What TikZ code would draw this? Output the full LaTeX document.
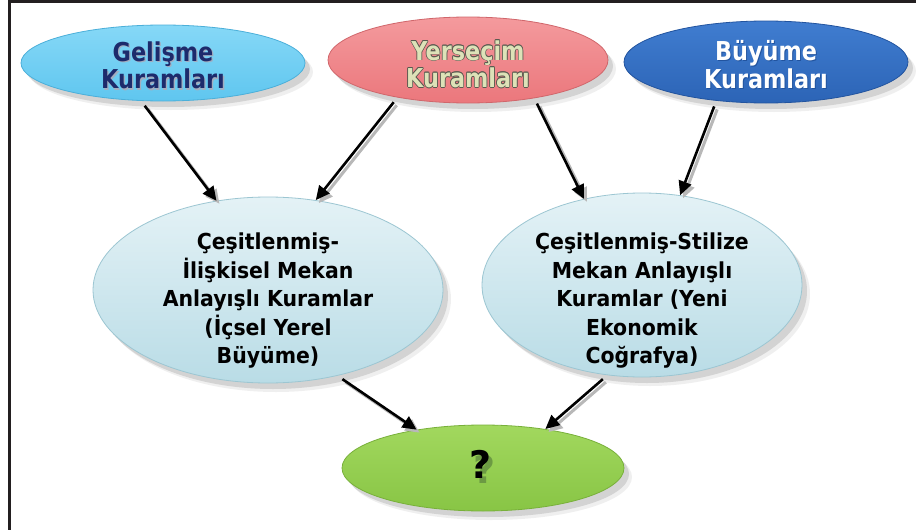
\documentclass[tikz,border=0pt]{standalone}
\usepackage{fontspec}
\setmainfont{DejaVu Sans}
\newfontfamily\headfont{DejaVu Sans}[FakeStretch=0.86]
\newfontfamily\bodyfont{DejaVu Sans}[FakeStretch=0.93]
\usetikzlibrary{shapes.geometric,shadows,arrows.meta}

\definecolor{framegray}{HTML}{231F20}
\definecolor{skytop}{HTML}{86D8F7}
\definecolor{skybot}{HTML}{5FC6EF}
\definecolor{skyedge}{HTML}{4BAFD9}
\definecolor{rosetop}{HTML}{F49A9D}
\definecolor{rosebot}{HTML}{EB777C}
\definecolor{roseedge}{HTML}{D0666B}
\definecolor{bluetop}{HTML}{407DD0}
\definecolor{bluebot}{HTML}{2C64B6}
\definecolor{blueedge}{HTML}{22549F}
\definecolor{icetop}{HTML}{E4F2F6}
\definecolor{icebot}{HTML}{B9DCE6}
\definecolor{iceedge}{HTML}{9CC6D2}
\definecolor{limetop}{HTML}{A2D85E}
\definecolor{limebot}{HTML}{88C545}
\definecolor{limeedge}{HTML}{78B03A}
\definecolor{navytext}{HTML}{1D2B6C}
\definecolor{navyglow}{HTML}{A3ADBF}
\definecolor{paletext}{HTML}{DDE2B8}
\definecolor{ringgray}{HTML}{5A5A50}
\definecolor{qshade}{HTML}{6C9A43}

% text with a thin dark ring round it
\newcommand\ringtext[3]{%
  \leavevmode
  \rlap{\kern-.7pt\textcolor{#1}{#3}}%
  \rlap{\kern.7pt\textcolor{#1}{#3}}%
  \rlap{\raisebox{.7pt}{\textcolor{#1}{#3}}}%
  \rlap{\raisebox{-.7pt}{\textcolor{#1}{#3}}}%
  \rlap{\kern-.5pt\raisebox{.5pt}{\textcolor{#1}{#3}}}%
  \rlap{\kern.5pt\raisebox{.5pt}{\textcolor{#1}{#3}}}%
  \rlap{\kern-.5pt\raisebox{-.5pt}{\textcolor{#1}{#3}}}%
  \rlap{\kern.5pt\raisebox{-.5pt}{\textcolor{#1}{#3}}}%
  \textcolor{#2}{#3}}
% text with a soft offset copy behind it
\newcommand\castext[5]{%
  \leavevmode\rlap{\kern#4\raisebox{#5}{\textcolor{#1}{#3}}}\textcolor{#2}{#3}}

\tikzset{
  oval/.style={ellipse, inner sep=0pt, line width=0.8pt,
    drop shadow={shadow xshift=8pt, shadow yshift=-9pt, opacity=.12},
    drop shadow={shadow xshift=5pt, shadow yshift=-6pt, opacity=.25}},
  headtext/.style={align=center, inner sep=0pt,
    font=\headfont\bfseries\fontsize{26}{24.5}\selectfont},
  bodytext/.style={align=center, inner sep=0pt,
    font=\bodyfont\bfseries\fontsize{22}{28.5}\selectfont},
  link/.style={line width=2.6pt, -{Triangle[length=14pt,width=13pt]},
    shorten <=6pt,
    preaction={draw=black!28, line width=3pt,
      -{Triangle[length=14pt,width=13pt]},
      transform canvas={shift={(3pt,-3pt)}}}}
}

\begin{document}
\begin{tikzpicture}[x=1pt,y=-1pt]
\useasboundingbox (0,0) rectangle (916,530);
\fill[white] (0,0) rectangle (916,530);

% frame
\draw[framegray, line width=3pt] (8,1.5) -- (916,1.5);
\draw[framegray, line width=3pt] (9.5,0) -- (9.5,530);

% top row
\node[oval, minimum width=284pt, minimum height=76pt,
  top color=skytop, bottom color=skybot, draw=skyedge] (G) at (163,63) {};
\node[headtext] (Gt) at (163,66)
  {\castext{navyglow}{navytext}{Gelişme}{1.3pt}{-1.5pt}\\
   \castext{navyglow}{navytext}{Kuramları}{1.3pt}{-1.5pt}};

\node[oval, minimum width=280pt, minimum height=86pt,
  top color=rosetop, bottom color=rosebot, draw=roseedge] (Y) at (468,60) {};
\node[headtext] (Yt) at (468,64)
  {\ringtext{ringgray}{paletext}{Yerseçim}\\
   \ringtext{ringgray}{paletext}{Kuramları}};

\node[oval, minimum width=284pt, minimum height=82pt,
  top color=bluetop, bottom color=bluebot, draw=blueedge] (B) at (766,62) {};
\node[headtext] (Bt) at (766,65)
  {\castext{blueedge}{white}{Büyüme}{1pt}{-1pt}\\
   \castext{blueedge}{white}{Kuramları}{1pt}{-1pt}};

% middle row
\node[oval, minimum width=350pt, minimum height=186pt,
  top color=icetop, bottom color=icebot, draw=iceedge] (L) at (268,290) {};
\node[bodytext] (Lt) at (268,301)
  {Çeşitlenmiş-\\İlişkisel Mekan\\Anlayışlı Kuramlar\\(İçsel Yerel\\Büyüme)};

\node[oval, minimum width=320pt, minimum height=184pt,
  top color=icetop, bottom color=icebot, draw=iceedge] (R) at (642,285) {};
\node[bodytext] (Rt) at (642,301)
  {Çeşitlenmiş-Stilize\\Mekan Anlayışlı\\Kuramlar (Yeni\\Ekonomik\\Coğrafya)};

% bottom
\node[oval, minimum width=282pt, minimum height=86pt,
  top color=limetop, bottom color=limebot, draw=limeedge] (Q) at (483,468) {};
\node[inner sep=0pt, font=\bfseries\fontsize{38}{38}\selectfont] (Qt) at (481,467)
  {\castext{qshade}{black}{?}{4pt}{-5pt}};

% connectors
\draw[link] (G.240) -- (L.120);
\draw[link] (Y.208) -- (L.62);
\draw[link] (Y.330) -- (R.124);
\draw[link] (B.218) -- (R.67);
\draw[link] (L.309) -- (Q.150);
\draw[link] (R.249) -- (Q.32);
\end{tikzpicture}
\end{document}
